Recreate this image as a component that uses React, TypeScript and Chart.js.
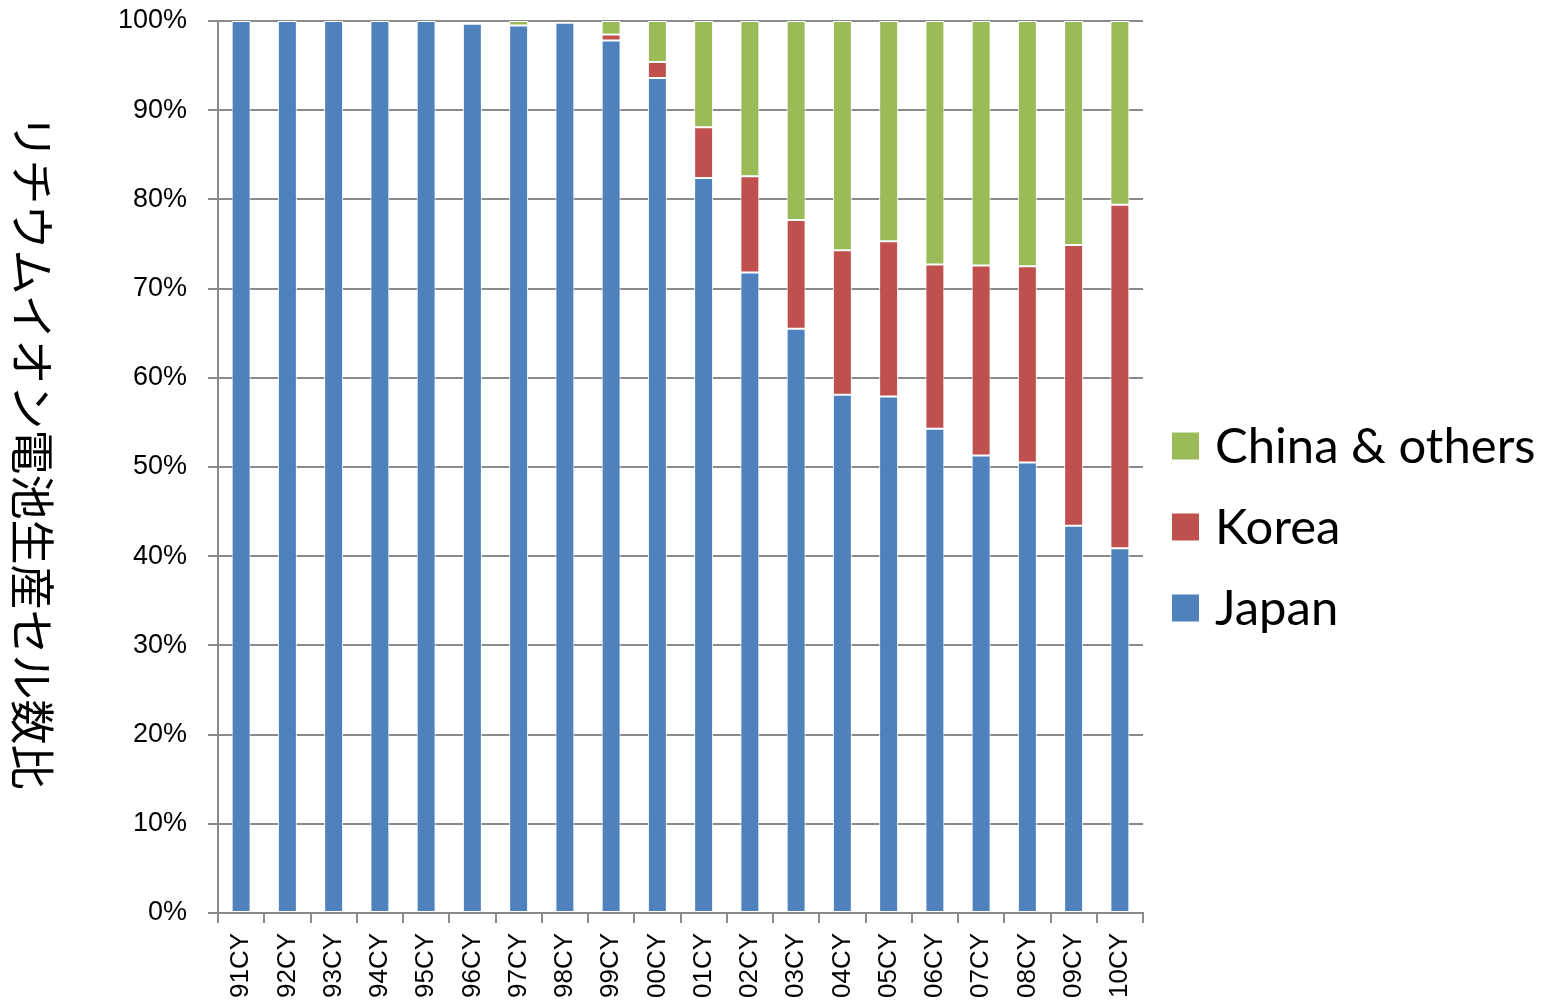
import React, { useEffect, useRef } from "react";
import { Chart, registerables } from "chart.js";

Chart.register(...registerables);

const categories = ["91CY","92CY","93CY","94CY","95CY","96CY","97CY","98CY","99CY","00CY","01CY","02CY","03CY","04CY","05CY","06CY","07CY","08CY","09CY","10CY"];
const japan = [100, 100, 100, 100, 100, 99.7, 99.5, 99.8, 97.8, 93.6, 82.4, 71.8, 65.5, 58.1, 57.9, 54.3, 51.3, 50.5, 43.4, 40.9];
const korea = [0, 0, 0, 0, 0, 0, 0, 0, 0.7, 1.8, 5.7, 10.8, 12.2, 16.2, 17.4, 18.4, 21.3, 22.0, 31.5, 38.5];
const china = [0, 0, 0, 0, 0, 0, 0.5, 0, 1.5, 4.6, 11.9, 17.4, 22.3, 25.7, 24.7, 27.3, 27.4, 27.5, 25.1, 20.6];
const seriesNames = ["Japan", "Korea", "China & others"];
const seriesColors = ["#4F81BD", "#C0504D", "#9BBB59"];
const yTitle = "リチウムイオン電池生産セル数比";

const GRID = "#8a8a8a";

const customPlugin = {
  id: "customDecor",
  afterDraw(chart: any) {
    const ctx = chart.ctx;
    ctx.save();
    ctx.translate(32, 452);
    ctx.rotate(Math.PI / 2);
    ctx.font = '45px "Noto Sans CJK JP"';
    ctx.fillStyle = "#000";
    ctx.textAlign = "center";
    ctx.textBaseline = "middle";
    ctx.fillText(yTitle, 0, 0);
    ctx.restore();

    const ds = chart.data.datasets;
    const centers = [446, 527, 608];
    ctx.save();
    ctx.font = '49px "Lato"';
    ctx.textBaseline = "middle";
    ctx.textAlign = "left";
    for (let i = 0; i < ds.length; i++) {
      const d = ds[ds.length - 1 - i];
      const cy = centers[i];
      ctx.fillStyle = d.backgroundColor;
      ctx.fillRect(1172, cy - 13.5, 27, 27);
      ctx.fillStyle = "#000";
      ctx.fillText(d.label, 1215, cy + 1);
    }
    ctx.restore();
  },
};

export default function App() {
  const ref = useRef<HTMLCanvasElement | null>(null);
  useEffect(() => {
    if (!ref.current) return;
    const datasets = [japan, korea, china].map((arr, i) => ({
      label: seriesNames[i],
      data: arr,
      backgroundColor: seriesColors[i],
      borderColor: "#ffffff",
      borderWidth: 1,
      borderSkipped: false,
      categoryPercentage: 1,
      barPercentage: 0.41,
    }));
    const chart = new Chart(ref.current, {
      type: "bar",
      data: { labels: categories, datasets: datasets as any },
      options: {
        animation: false,
        responsive: false,
        maintainAspectRatio: false,
        layout: { padding: { left: 0, right: 405, top: 21, bottom: 0 } },
        plugins: { legend: { display: false }, tooltip: { enabled: false } },
        scales: {
          x: {
            stacked: true,
            offset: true,
            afterFit(scale: any) {
              scale.height = 90;
              scale.paddingLeft = 0;
              scale.paddingRight = 0;
            },
            grid: { display: true, drawOnChartArea: false, drawTicks: true, tickLength: 10, color: GRID, lineWidth: 2, offset: true },
            border: { display: true, color: GRID, width: 2 },
            ticks: {
              color: "#000",
              font: { family: "Liberation Sans", size: 26 },
              maxRotation: 90,
              minRotation: 90,
              padding: 10,
              autoSkip: false,
            },
          },
          y: {
            stacked: true,
            min: 0,
            max: 100,
            afterFit(scale: any) {
              scale.width = 218;
              scale.paddingTop = 0;
              scale.paddingBottom = 0;
            },
            grid: { color: GRID, lineWidth: 2, tickLength: 10, drawTicks: true },
            border: { display: true, color: GRID, width: 2 },
            ticks: {
              stepSize: 10,
              color: "#000",
              font: { family: "Liberation Sans", size: 27 },
              padding: 21,
              callback: (v: any) => v + "%",
            },
          },
        },
      },
      plugins: [customPlugin],
    });
    return () => chart.destroy();
  }, []);
  return (
    <div style={{ position: "absolute", left: 0, top: 0, width: 1548, height: 1003, background: "#fff" }}>
      <canvas ref={ref} width={1548} height={1003} style={{ width: 1548, height: 1003, display: "block" }} />
    </div>
  );
}
